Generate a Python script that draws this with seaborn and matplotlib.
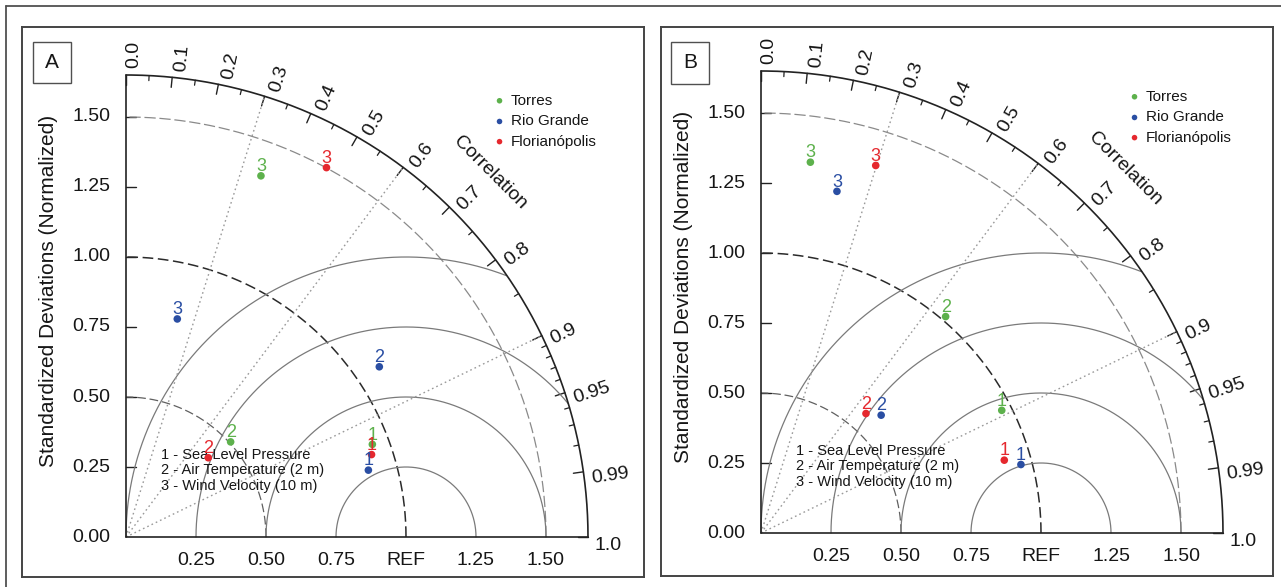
import numpy as np
import pandas as pd
import matplotlib
matplotlib.use("Agg")
import matplotlib.pyplot as plt
import seaborn as sns
from matplotlib.patches import Rectangle
from matplotlib.lines import Line2D

# ---------------- data ----------------
stations = ["Torres", "Rio Grande", "Florianópolis"]
station_colors = ["#5DB14C", "#2A4EA3", "#E5282E"]
variable_ids = ["1", "2", "3"]
variable_names = ["1 - Sea Level Pressure", "2 - Air Temperature (2 m)", "3 - Wind Velocity (10 m)"]

# Panel A: normalized standard deviation and correlation (variables 1, 2, 3)
a_torres_std = [0.940, 0.505, 1.377]
a_torres_cor = [0.936, 0.740, 0.350]
a_riogrande_std = [0.898, 1.090, 0.800]
a_riogrande_cor = [0.964, 0.830, 0.229]
a_floripa_std = [0.925, 0.408, 1.501]
a_floripa_cor = [0.948, 0.720, 0.477]

# Panel B
b_torres_std = [0.965, 1.016, 1.336]
b_torres_cor = [0.891, 0.649, 0.132]
b_riogrande_std = [0.960, 0.601, 1.250]
b_riogrande_cor = [0.967, 0.714, 0.217]
b_floripa_std = [0.907, 0.568, 1.375]
b_floripa_cor = [0.958, 0.660, 0.298]

std_ticks = [0.25, 0.50, 0.75, 1.00, 1.25, 1.50]
std_tick_labels_y = ["0.00", "0.25", "0.50", "0.75", "1.00", "1.25", "1.50"]
std_tick_labels_x = ["0.25", "0.50", "0.75", "REF", "1.25", "1.50"]
cor_major = [0.0, 0.1, 0.2, 0.3, 0.4, 0.5, 0.6, 0.7, 0.8, 0.9, 0.95, 0.99, 1.0]
cor_major_labels = ["0.0", "0.1", "0.2", "0.3", "0.4", "0.5", "0.6", "0.7", "0.8", "0.9", "0.95", "0.99", "1.0"]
cor_minor = [0.05, 0.15, 0.25, 0.35, 0.45, 0.55, 0.65, 0.75, 0.85,
             0.91, 0.92, 0.93, 0.94, 0.96, 0.97, 0.98]
std_arcs = [0.5, 1.0, 1.5]
rms_arcs = [0.25, 0.5, 0.75, 1.0]
ray_cors = [0.3, 0.6, 0.9]
max_std = 1.65

# ---------------- figure ----------------
sns.set_style("white")
plt.rcParams["font.family"] = ["Liberation Sans", "DejaVu Sans"]

W, H = 1281, 587
fig = plt.figure(figsize=(W / 100, H / 100), dpi=100)
UNIT = 280.0
TXT = "#161616"


def make_axes(frame, origin):
    L, T, R, B = frame
    ax = fig.add_axes([L / W, (H - B) / H, (R - L) / W, (B - T) / H])
    ox, oy = origin
    ax.set_xlim((L - ox) / UNIT, (R - ox) / UNIT)
    ax.set_ylim((oy - B) / UNIT, (oy - T) / UNIT)
    ax.set_xticks([])
    ax.set_yticks([])
    for s in ax.spines.values():
        s.set_color("#444444")
        s.set_linewidth(1.4)
    return ax


def draw_panel(ax, letter, box, std_sets, cor_sets):
    dark = "#222222"
    # axes lines
    ax.plot([0, 0], [0, max_std], color=dark, lw=1.2, zorder=3)
    ax.plot([0, max_std], [0, 0], color=dark, lw=1.2, zorder=3)
    th = np.linspace(0, np.pi / 2, 400)
    ax.plot(max_std * np.cos(th), max_std * np.sin(th), color=dark, lw=1.2, zorder=3)

    # y ticks and labels
    for v, lab in zip([0.0] + std_ticks[:], std_tick_labels_y):
        if v > 0:
            ax.plot([0, 0.036], [v, v], color=dark, lw=1.0)
        ax.text(-0.055, v, lab, ha="right", va="center", fontsize=14, color=TXT)
    for v, lab in zip(std_ticks, std_tick_labels_x):
        ax.text(v, -0.083, lab, ha="center", va="center", fontsize=14, color=TXT)

    # correlation ticks
    for c, lab in zip(cor_major, cor_major_labels):
        t = np.arccos(c)
        ax.plot([max_std * np.cos(t), (max_std - 0.036) * np.cos(t)],
                [max_std * np.sin(t), (max_std - 0.036) * np.sin(t)], color=dark, lw=1.0)
        ta = t - np.radians(1.0)
        r = max_std + 0.025
        ax.text(r * np.cos(ta), r * np.sin(ta), lab, rotation=np.degrees(t),
                rotation_mode="anchor", ha="left", va="center", fontsize=14, color=TXT)
    for c in cor_minor:
        t = np.arccos(c)
        ax.plot([max_std * np.cos(t), (max_std - 0.018) * np.cos(t)],
                [max_std * np.sin(t), (max_std - 0.018) * np.sin(t)], color=dark, lw=0.9)
    ax.text(1.30, 1.30, "Correlation", rotation=-45, ha="center", va="center",
            fontsize=14, color=TXT)

    # std arcs (dashed)
    for r in std_arcs:
        if r == 1.0:
            ax.plot(r * np.cos(th), r * np.sin(th), color="#2a2a2a", lw=1.1,
                    dashes=(7, 3), zorder=2)
        elif r == 0.5:
            ax.plot(r * np.cos(th), r * np.sin(th), color="#606060", lw=0.9,
                    dashes=(7, 3), zorder=2)
        else:
            ax.plot(r * np.cos(th), r * np.sin(th), color="#8a8a8a", lw=0.9,
                    dashes=(9, 3), zorder=2)

    # RMS arcs around REF
    tt = np.linspace(0, np.pi, 800)
    for r in rms_arcs:
        x = 1.0 + r * np.cos(tt)
        y = r * np.sin(tt)
        m = (x ** 2 + y ** 2 <= max_std ** 2 + 1e-9) & (x >= -1e-9)
        ax.plot(x[m], y[m], color="#7a7a7a", lw=0.9, zorder=2)

    # correlation rays
    for c in ray_cors:
        t = np.arccos(c)
        ax.plot([0, max_std * np.cos(t)], [0, max_std * np.sin(t)], color="#9a9a9a",
                lw=1.0, ls=(0, (1.2, 2.2)), zorder=2)

    # data
    rows = []
    for st, stds, cors in zip(stations, std_sets, cor_sets):
        for vid, s, c in zip(variable_ids, stds, cors):
            rows.append(dict(station=st, var=vid, x=s * c, y=s * np.sqrt(1 - c ** 2)))
    df = pd.DataFrame(rows)
    pal = dict(zip(stations, station_colors))
    sns.scatterplot(data=df, x="x", y="y", hue="station", palette=pal, s=30,
                    edgecolor="none", legend=False, ax=ax, zorder=5)
    for _, rw in df.iterrows():
        ax.annotate(rw["var"], (rw["x"], rw["y"]), xytext=(0, 0.5), textcoords="offset points",
                    ha="center", va="bottom", fontsize=13, color=pal[rw["station"]], zorder=6)

    # legend
    leg_y = [1.558, 1.484, 1.412]
    for st, col, ly in zip(stations, station_colors, leg_y):
        ax.scatter([1.334], [ly], s=16, color=col, edgecolor="none", zorder=5)
        ax.text(1.375, ly, st, ha="left", va="center", fontsize=11, color=TXT)

    # variable key
    for name, ly in zip(variable_names, [0.293, 0.239, 0.183]):
        ax.text(0.125, ly, name, ha="left", va="center", fontsize=10.5, color=TXT)

    # panel letter box
    x0, y0, x1, y1 = box
    ax.add_patch(Rectangle((x0, y0), x1 - x0, y1 - y0, fill=False, ec="#505050", lw=1.0))
    ax.text((x0 + x1) / 2, (y0 + y1) / 2, letter, ha="center", va="center", fontsize=15,
            color=TXT)

    ax.text(-0.277, 0.88, "Standardized Deviations (Normalized)", rotation=90,
            ha="center", va="center", fontsize=15, color=TXT)


axA = make_axes((22, 27, 644, 577), (126, 537))
draw_panel(axA, "A", (-0.332, 1.621, -0.196, 1.768),
           [a_torres_std, a_riogrande_std, a_floripa_std],
           [a_torres_cor, a_riogrande_cor, a_floripa_cor])

axB = make_axes((661, 27, 1273, 576), (761, 533))
draw_panel(axB, "B", (-0.321, 1.604, -0.186, 1.754),
           [b_torres_std, b_riogrande_std, b_floripa_std],
           [b_torres_cor, b_riogrande_cor, b_floripa_cor])

# outer frame (partially cropped)
fig.add_artist(Line2D([6 / W, 6 / W], [0, 1 - 6 / H], color="#505050", lw=1.3))
fig.add_artist(Line2D([6 / W, 1], [1 - 6 / H, 1 - 6 / H], color="#505050", lw=1.3))

fig.savefig("out.png", dpi=100, facecolor="white")
